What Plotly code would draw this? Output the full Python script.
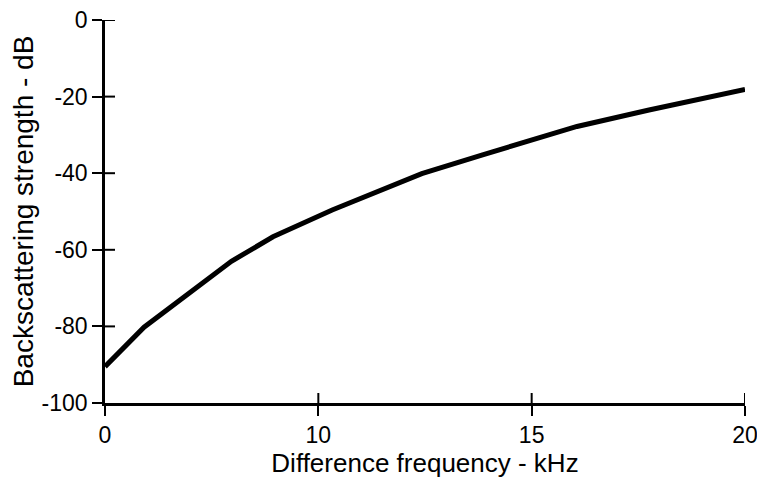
import numpy as np
import plotly.graph_objects as go

# Data (x in axis units, 0..20 across the plot)
freq = [0.0, 1.22, 3.95, 5.25, 7.1, 9.9, 11.8, 13.4, 14.75, 17.0, 20.0]
strength = [-90.5, -80.2, -63.0, -56.6, -49.6, -40.1, -35.2, -31.3, -27.8, -23.5, -18.1]

x_tick_labels = ["0", "10", "15", "20"]
y_tick_vals = [0, -20, -40, -60, -80, -100]
y_tick_labels = ["0", "-20", "-40", "-60", "-80", "-100"]

x_title = "Difference frequency - kHz"
y_title = "Backscattering strength - dB"

x_tick_pos = list(np.linspace(0, 20, len(x_tick_labels)))

FONT = "Liberation Sans, Arial, sans-serif"
X_RANGE = [0, 20]
Y_RANGE = [-100, 0]
TICK_LEN = 10

fig = go.Figure()
fig.add_trace(go.Scatter(x=freq, y=strength, mode="lines",
                         line=dict(color="black", width=5),
                         showlegend=False, hoverinfo="skip"))

# inner halves of the crossing ticks (pixel-sized, anchored on the axes)
for v in y_tick_vals[:-1]:
    fig.add_shape(type="line", xref="x", yref="y", xsizemode="pixel",
                  xanchor=X_RANGE[0], x0=0, x1=TICK_LEN, y0=v, y1=v,
                  line=dict(color="black", width=2), layer="above")
for v in x_tick_pos[1:]:
    fig.add_shape(type="line", xref="x", yref="y", ysizemode="pixel",
                  yanchor=Y_RANGE[0], y0=0, y1=TICK_LEN, x0=v, x1=v,
                  line=dict(color="black", width=2), layer="above")

common = dict(showgrid=False, zeroline=False)
fig.update_layout(
    width=765, height=483,
    paper_bgcolor="white", plot_bgcolor="white",
    margin=dict(l=97, r=28, t=12, b=88),
    font=dict(family=FONT, color="black", size=23),
    xaxis=dict(range=X_RANGE, tickvals=x_tick_pos, ticktext=x_tick_labels,
               showline=True, linecolor="black", linewidth=2.5,
               ticks="outside", ticklen=TICK_LEN, tickwidth=2, tickcolor="black",
               tickfont=dict(size=23), ticklabeloverflow="allow",
               title=dict(text=x_title, font=dict(size=26), standoff=6),
               automargin=False, **common),
    yaxis=dict(range=Y_RANGE, tickvals=y_tick_vals, ticktext=y_tick_labels,
               showline=True, linecolor="black", linewidth=2.5,
               ticks="outside", ticklen=TICK_LEN, tickwidth=2, tickcolor="black",
               tickfont=dict(size=23), ticklabeloverflow="allow",
               title=dict(text=y_title, font=dict(size=28), standoff=4),
               automargin=False, **common),
)

fig.write_html("out.html")
